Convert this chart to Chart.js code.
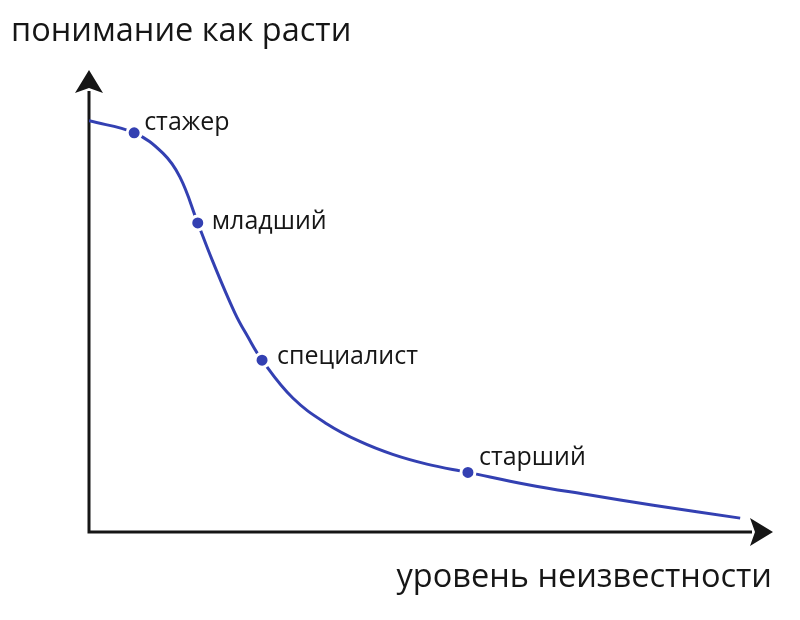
<!DOCTYPE html>
<html>
<head>
<meta charset="utf-8">
<script src="https://cdn.jsdelivr.net/npm/chart.js"></script>
<style>
  html, body { margin: 0; padding: 0; background: #fff; }
  #wrap { position: relative; width: 800px; height: 620px; }
</style>
</head>
<body>
<div id="wrap"><canvas id="curveChart" width="800" height="620"></canvas></div>
<script>
// curve of "understanding how to grow" vs "level of uncertainty" (0..100 units)
const curveX = [0, 6.6, 10.8, 13.3, 15.9, 18.0, 21.3, 23.2, 25.3, 29.8, 34.8, 39.6, 44.4, 49.4, 55.4, 64.0, 72.8, 82.5, 95.2];
const curveY = [89.0, 86.4, 82.0, 76.8, 66.9, 58.9, 47.5, 42.3, 37.2, 29.0, 23.4, 19.6, 16.8, 14.7, 12.9, 10.3, 8.1, 5.8, 3.0];

const stageNames = ['стажер', 'младший', 'специалист', 'старший'];
const stageX = [6.6, 15.9, 25.3, 55.4];
const stageY = [86.4, 66.9, 37.2, 12.9];

const yTitle = 'понимание как расти';
const xTitle = 'уровень неизвестности';

const BLUE = '#3340b2';
const INK = '#161616';
const FONT = '"Open Sans", "Noto Sans", sans-serif';

// axes with arrowheads, drawn along the chart area edges
const arrowAxes = {
  id: 'arrowAxes',
  beforeDatasetsDraw(chart) {
    const { ctx, chartArea: a } = chart;
    const head = 23, half = 14;
    ctx.save();
    ctx.strokeStyle = INK;
    ctx.fillStyle = INK;
    ctx.lineWidth = 3;
    ctx.beginPath();
    ctx.moveTo(a.left, a.top + head - 2);
    ctx.lineTo(a.left, a.bottom);
    ctx.lineTo(a.right - head + 2, a.bottom);
    ctx.stroke();
    ctx.beginPath();
    ctx.moveTo(a.left, a.top);
    ctx.lineTo(a.left - half, a.top + head);
    ctx.lineTo(a.left, a.top + head - 5);
    ctx.lineTo(a.left + half, a.top + head);
    ctx.closePath();
    ctx.fill();
    ctx.beginPath();
    ctx.moveTo(a.right, a.bottom);
    ctx.lineTo(a.right - head, a.bottom - half);
    ctx.lineTo(a.right - head + 5, a.bottom);
    ctx.lineTo(a.right - head, a.bottom + half);
    ctx.closePath();
    ctx.fill();
    ctx.restore();
  }
};

// titles and stage labels
const textLayer = {
  id: 'textLayer',
  afterDraw(chart, args, opts) {
    const { ctx } = chart;
    const xs = chart.scales.x, ys = chart.scales.y;
    ctx.save();
    ctx.fillStyle = INK;
    ctx.textBaseline = 'middle';
    ctx.font = `32.5px ${FONT}`;
    ctx.textAlign = 'left';
    ctx.fillText(yTitle, 11, 32);
    ctx.textAlign = 'right';
    ctx.fillText(xTitle, 772, 578);
    ctx.font = `25px ${FONT}`;
    ctx.textAlign = 'left';
    stageNames.forEach((name, i) => {
      const px = xs.getPixelForValue(stageX[i]);
      const py = ys.getPixelForValue(stageY[i]);
      ctx.fillText(name, px + opts.dx[i], py + opts.dy[i]);
    });
    ctx.restore();
  }
};

new Chart(document.getElementById('curveChart'), {
  type: 'scatter',
  data: {
    datasets: [
      {
        label: 'кривая',
        data: curveX.map((x, i) => ({ x, y: curveY[i] })),
        showLine: true,
        borderColor: BLUE,
        borderWidth: 3,
        pointRadius: 0,
        tension: 0.4,
        order: 2
      },
      {
        label: 'этапы',
        data: stageX.map((x, i) => ({ x, y: stageY[i] })),
        backgroundColor: BLUE,
        borderColor: '#ffffff',
        borderWidth: 3,
        pointRadius: 7,
        order: 1
      }
    ]
  },
  options: {
    responsive: false,
    animation: false,
    layout: { padding: { left: 89, top: 70, right: 27, bottom: 88 } },
    scales: {
      x: { type: 'linear', min: 0, max: 100, display: false },
      y: { type: 'linear', min: 0, max: 100, display: false }
    },
    plugins: {
      legend: { display: false },
      tooltip: { enabled: false },
      textLayer: { dx: [10, 14, 15, 11], dy: [-10, -1, -3, -15] }
    }
  },
  plugins: [arrowAxes, textLayer]
});
</script>
</body>
</html>
